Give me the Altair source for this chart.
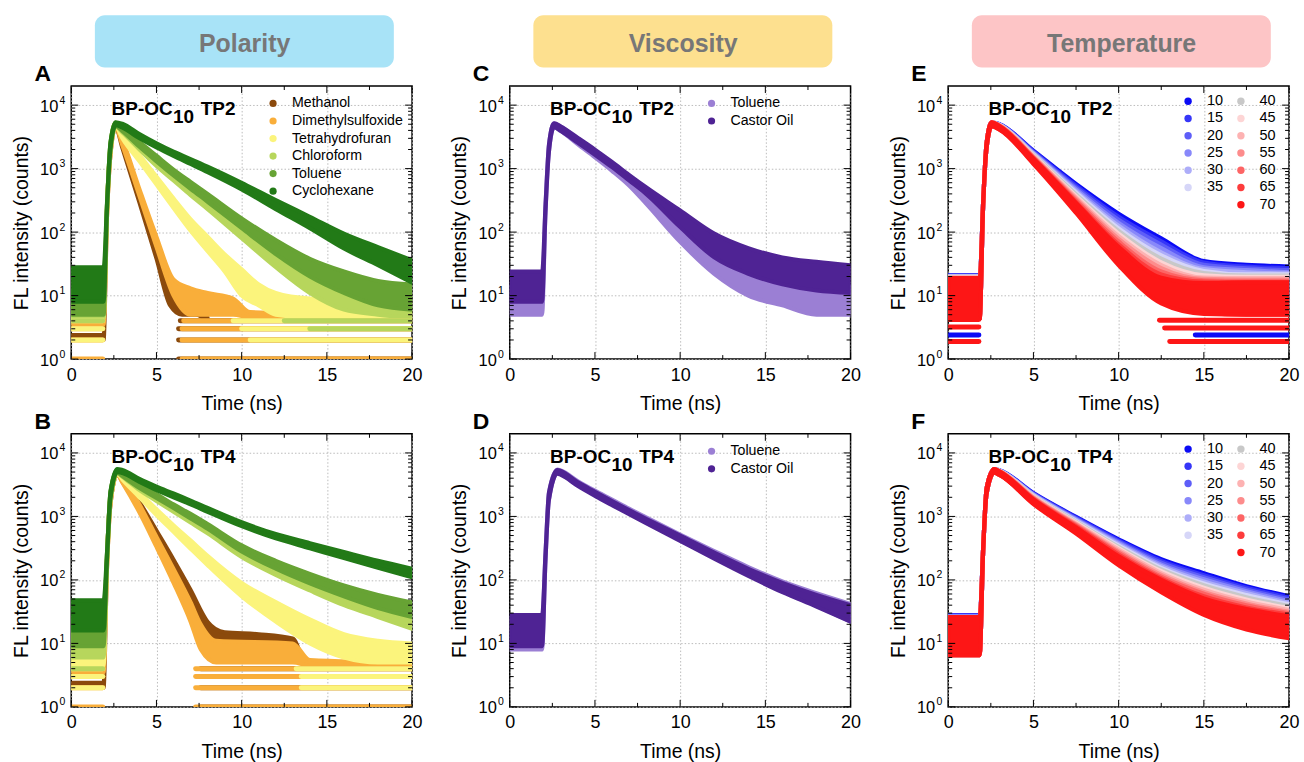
import altair as alt
import pandas as pd

FONT = "Liberation Sans"
W, H = 342, 274

# ---------------- axis ticks ----------------
X_MAJOR = [0, 5, 10, 15, 20]
X_MINOR = [2.5, 7.5, 12.5, 17.5]
Y_MAJOR = [1, 10, 100, 1000, 10000]
Y_EXP = ["0", "1", "2", "3", "4"]
Y_MINOR = [2, 3, 4, 5, 6, 7, 8, 9, 20, 30, 40, 50, 60, 70, 80, 90,
           200, 300, 400, 500, 600, 700, 800, 900,
           2000, 3000, 4000, 5000, 6000, 7000, 8000, 9000]

# ---------------- Panel A : polarity, TP2 ----------------
A_NAMES = ["Methanol", "Dimethylsulfoxide", "Tetrahydrofuran", "Chloroform", "Toluene", "Cyclohexane"]
A_COLORS = ["#8b4a0c", "#f9ae3a", "#fbf47c", "#b7d65c", "#67a334", "#227a17"]
GRID_A = [0, 1.9, 2.1, 2.3, 2.6, 3, 4, 5, 6, 7, 8, 10, 12, 14, 16, 18, 20]
A_T = {
    "Methanol": [0, 1.9, 2.1, 2.3, 2.6, 3, 4, 5, 5.8, 6.5, 7.3, 8],
    "Dimethylsulfoxide": [0, 1.9, 2.1, 2.3, 2.6, 3, 4, 5, 6, 7, 8, 9.5, 10.5, 20],
    "Tetrahydrofuran": [0, 1.9, 2.1, 2.3, 2.6, 3, 4, 5, 6, 7, 8, 9, 10, 11, 12, 14, 20],
    "Chloroform": GRID_A, "Toluene": GRID_A, "Cyclohexane": GRID_A,
}
A_LO = {
    "Methanol": [2, 2, 170, 1600, 4500, 2100, 290, 38, 7, 5, 5, 4],
    "Dimethylsulfoxide": [3.5, 3.5, 170, 1600, 4500, 2300, 370, 58, 10, 5, 5, 5, 4.5, 4.5],
    "Tetrahydrofuran": [4.5, 4.5, 200, 1800, 4600, 3000, 1300, 560, 240, 105, 50, 24, 10, 7, 5, 4.5, 4.5],
    "Chloroform": [4.5, 4.5, 210, 1900, 4600, 3700, 2000, 1100, 650, 380, 230, 80, 28, 11, 6, 5, 4.5],
    "Toluene": [5, 5, 220, 1950, 4700, 3900, 2200, 1300, 780, 480, 300, 115, 45, 20, 11, 7, 6],
    "Cyclohexane": [8, 8, 230, 2000, 4800, 4400, 3000, 2150, 1580, 1180, 880, 470, 230, 115, 55, 30, 16],
}
A_HI = {
    "Methanol": [2.4, 2.4, 250, 2200, 5200, 2600, 380, 55, 12, 11, 9, 4.5],
    "Dimethylsulfoxide": [4.5, 4.5, 250, 2200, 5200, 2900, 480, 85, 18, 13, 11, 9, 5.5, 5],
    "Tetrahydrofuran": [6, 6, 280, 2400, 5300, 3700, 1650, 750, 340, 160, 85, 45, 26, 15, 11, 9, 8],
    "Chloroform": [9, 9, 290, 2500, 5300, 4300, 2400, 1350, 820, 500, 310, 120, 50, 25, 14, 11, 10],
    "Toluene": [12, 12, 300, 2550, 5300, 4500, 2650, 1600, 970, 620, 400, 165, 75, 38, 24, 17, 15],
    "Cyclohexane": [28, 28, 310, 2600, 5400, 5100, 3500, 2500, 1850, 1420, 1080, 600, 320, 175, 95, 58, 36],
}
# quantised low-count rows: (series, level, from, to)
A_STRIPES = [
    ("Methanol", 1, 6.3, 20), ("Methanol", 2, 6.3, 20), ("Methanol", 3, 6.3, 20), ("Methanol", 4, 6.4, 20),
    ("Dimethylsulfoxide", 1, 6.5, 20), ("Dimethylsulfoxide", 2, 6.5, 20),
    ("Dimethylsulfoxide", 3, 6.5, 20), ("Dimethylsulfoxide", 4, 6.6, 20),
    ("Dimethylsulfoxide", 1, 0, 1.85), ("Dimethylsulfoxide", 2, 0, 1.85), ("Dimethylsulfoxide", 3, 0, 1.85),
    ("Tetrahydrofuran", 2, 10.5, 20), ("Tetrahydrofuran", 3, 10, 20), ("Tetrahydrofuran", 4, 9.5, 20),
    ("Tetrahydrofuran", 2, 0, 1.85), ("Tetrahydrofuran", 3, 0, 1.85), ("Tetrahydrofuran", 4, 0, 1.85),
    ("Chloroform", 3, 14, 20), ("Chloroform", 4, 12.5, 20), ("Chloroform", 4, 0, 1.85),
]

# ---------------- Panel B : polarity, TP4 ----------------
GRID_B = [0, 1.9, 2.1, 2.3, 2.7, 3, 4, 5, 6, 7, 8, 10, 12, 14, 16, 18, 20]
B_T = {
    "Methanol": [0, 1.9, 2.1, 2.3, 2.7, 3, 4, 5, 6, 7, 8, 9, 11, 13, 13.5],
    "Dimethylsulfoxide": [0, 1.9, 2.1, 2.3, 2.7, 3, 4, 5, 6, 7, 7.6, 8.5, 13, 14, 20],
    "Tetrahydrofuran": GRID_B, "Chloroform": GRID_B, "Toluene": GRID_B, "Cyclohexane": GRID_B,
}
B_LO = {
    "Methanol": [2, 2, 150, 1500, 4600, 3500, 1300, 430, 140, 40, 12, 7, 7, 6, 5],
    "Dimethylsulfoxide": [3.5, 3.5, 150, 1500, 4600, 3400, 1150, 330, 90, 22, 8, 5, 5, 4.5, 4.5],
    "Tetrahydrofuran": [4.5, 4.5, 170, 1700, 4700, 3800, 2000, 1050, 570, 310, 170, 55, 22, 10, 6, 5, 5],
    "Chloroform": [6, 6, 190, 1800, 4800, 4200, 2600, 1750, 1180, 800, 540, 230, 120, 68, 40, 26, 17],
    "Toluene": [9, 9, 200, 1850, 4900, 4300, 2800, 1950, 1350, 930, 640, 280, 150, 88, 55, 36, 26],
    "Cyclohexane": [16, 16, 210, 1900, 5000, 4800, 3500, 2600, 2000, 1550, 1180, 700, 450, 315, 220, 155, 110],
}
B_HI = {
    "Methanol": [2.4, 2.4, 230, 2100, 5300, 4300, 1700, 600, 210, 70, 22, 15, 14, 12, 6],
    "Dimethylsulfoxide": [4.5, 4.5, 230, 2100, 5300, 4200, 1550, 480, 150, 45, 20, 11, 10, 5.5, 5],
    "Tetrahydrofuran": [7, 7, 250, 2300, 5400, 4400, 2400, 1300, 730, 420, 240, 90, 45, 24, 14, 11, 10],
    "Chloroform": [15, 15, 270, 2400, 5400, 4800, 3000, 2050, 1400, 960, 660, 300, 165, 100, 62, 42, 30],
    "Toluene": [24, 24, 280, 2450, 5400, 4900, 3200, 2250, 1550, 1100, 760, 350, 200, 125, 82, 58, 44],
    "Cyclohexane": [48, 48, 290, 2500, 5600, 5400, 3900, 2950, 2300, 1780, 1360, 810, 530, 380, 275, 200, 150],
}
B_STRIPES = [
    ("Methanol", 1, 7.6, 20), ("Methanol", 2, 7.6, 20), ("Methanol", 3, 7.6, 20), ("Methanol", 4, 7.6, 20),
    ("Dimethylsulfoxide", 1, 7.3, 20), ("Dimethylsulfoxide", 2, 7.3, 20),
    ("Dimethylsulfoxide", 3, 7.3, 20), ("Dimethylsulfoxide", 4, 7.3, 20),
    ("Dimethylsulfoxide", 1, 0, 1.85), ("Dimethylsulfoxide", 2, 0, 1.85), ("Dimethylsulfoxide", 3, 0, 1.85),
    ("Tetrahydrofuran", 2, 13.5, 20), ("Tetrahydrofuran", 3, 13.5, 20), ("Tetrahydrofuran", 4, 13.2, 20),
    ("Tetrahydrofuran", 2, 0, 1.85), ("Tetrahydrofuran", 3, 0, 1.85), ("Tetrahydrofuran", 4, 0, 1.85),
    ("Chloroform", 4, 0, 1.85),
]

# ---------------- Panels C, D : viscosity ----------------
V_NAMES = ["Toluene", "Castor Oil"]
V_COLORS = ["#9b7fd4", "#4f2394"]
GRID_C = [0, 1.9, 2.1, 2.3, 2.6, 3, 4, 5, 6, 7, 8, 10, 12, 14, 16, 18, 20]
C_LO = {
    "Toluene": [5, 5, 200, 1800, 4500, 3900, 2400, 1500, 920, 540, 280, 70, 22, 10, 7, 5, 5],
    "Castor Oil": [8, 8, 200, 1800, 4500, 3900, 2550, 1650, 1050, 650, 400, 120, 40, 22, 15, 12, 11],
}
C_HI = {
    "Toluene": [14, 14, 280, 2400, 5200, 4600, 2900, 1850, 1150, 700, 400, 130, 55, 27, 21, 16, 14],
    "Castor Oil": [24, 24, 280, 2400, 5200, 4600, 3050, 2000, 1280, 800, 510, 220, 95, 56, 40, 34, 30],
}
GRID_D = [0, 1.9, 2.1, 2.3, 2.8, 3, 4, 5, 6, 7, 8, 10, 12, 14, 16, 18, 20]
D_LO = {
    "Toluene": [8, 8, 200, 1800, 4800, 4600, 3100, 2200, 1580, 1130, 820, 430, 225, 120, 66, 39, 22],
    "Castor Oil": [9, 9, 200, 1800, 4700, 4500, 3000, 2100, 1500, 1080, 780, 410, 215, 115, 64, 38, 22],
}
D_HI = {
    "Toluene": [25, 25, 280, 2400, 5500, 5300, 3600, 2550, 1850, 1330, 970, 520, 285, 160, 95, 62, 42],
    "Castor Oil": [28, 28, 280, 2400, 5400, 5200, 3450, 2450, 1750, 1260, 920, 500, 270, 150, 90, 58, 40],
}

# ---------------- Panels E, F : temperature ----------------
T_NAMES = ["10", "15", "20", "25", "30", "35", "40", "45", "50", "55", "60", "65", "70"]
T_COLORS = ["#0b0bf5", "#3636f8", "#5e5ef8", "#8888fa", "#adadf9", "#d6d6f8", "#c8c8c8",
            "#fdd5d5", "#fdb2b2", "#fd8c8c", "#fd6565", "#fd3c3c", "#fd1616"]
E_T = [0, 1.85, 2.05, 2.25, 2.55, 3, 5, 7.5, 10, 12.5, 15, 17.5, 20]
E_SPREAD = [2.1, 2.1, 1.15, 1.12, 1.08, 1.07, 1.1, 1.2, 1.4, 1.6, 1.75, 1.8, 1.8]
E_MID = {
    "10": [10, 10, 280, 2300, 5000, 4700, 1750, 480, 140, 50, 20, 17, 16],
    "15": [10, 10, 280, 2300, 5000, 4680, 1700, 450, 125, 45, 19, 16, 15],
    "20": [9.8, 9.8, 280, 2300, 5000, 4650, 1650, 420, 112, 40, 17.5, 15, 14],
    "25": [9.7, 9.7, 280, 2300, 5000, 4620, 1610, 395, 100, 35, 16, 14, 13],
    "30": [9.6, 9.6, 280, 2300, 5000, 4600, 1570, 370, 90, 30, 15, 13, 12.5],
    "35": [9.5, 9.5, 280, 2300, 5000, 4580, 1530, 350, 82, 27, 14, 12, 12],
    "40": [9.4, 9.4, 280, 2300, 5000, 4560, 1500, 330, 75, 24, 13, 11.5, 11.5],
    "45": [9.3, 9.3, 280, 2300, 5000, 4540, 1470, 310, 68, 21, 12, 11, 11],
    "50": [9.2, 9.2, 280, 2300, 5000, 4510, 1430, 295, 62, 19, 11, 10.5, 10.5],
    "55": [9.1, 9.1, 280, 2300, 5000, 4490, 1400, 280, 56, 17, 10.5, 10, 10],
    "60": [9, 9, 280, 2300, 5000, 4460, 1370, 265, 51, 15, 10, 9.5, 9.5],
    "65": [9, 9, 280, 2300, 5000, 4430, 1340, 250, 46, 13.5, 9.5, 9, 9],
    "70": [9, 9, 280, 2300, 5000, 4400, 1300, 240, 42, 12, 9, 9, 9],
}
E_STRIPES = [
    ("10", 2.4, 14.5, 20), ("10", 2.4, 0, 1.8),
    ("70", 1.9, 13, 20), ("70", 3.1, 12.7, 20), ("70", 4.1, 12.4, 20),
    ("70", 1.9, 0, 1.8), ("70", 3.2, 0, 1.8), ("70", 4.2, 0, 1.8),
]
F_T = [0, 1.85, 2.05, 2.25, 2.7, 3, 5, 7.5, 10, 12.5, 15, 17.5, 20]
F_SPREAD = [2.0, 2.0, 1.15, 1.12, 1.07, 1.07, 1.09, 1.12, 1.18, 1.25, 1.35, 1.45, 1.5]
F_MID = {
    "10": [14, 14, 300, 2500, 5200, 5000, 2150, 880, 370, 170, 95, 55, 37],
    "15": [14, 14, 300, 2500, 5200, 4980, 2110, 855, 355, 160, 88, 52, 35],
    "20": [13.5, 13.5, 300, 2500, 5200, 4960, 2070, 830, 340, 150, 82, 49, 33],
    "25": [13.5, 13.5, 300, 2500, 5200, 4950, 2030, 805, 325, 140, 76, 46, 31],
    "30": [13, 13, 300, 2500, 5200, 4930, 2000, 785, 310, 132, 70, 43, 29],
    "35": [13, 13, 300, 2500, 5200, 4910, 1960, 760, 295, 124, 65, 40, 27.5],
    "40": [13, 13, 300, 2500, 5200, 4900, 1930, 740, 282, 117, 61, 37, 26],
    "45": [13, 13, 300, 2500, 5200, 4880, 1890, 715, 268, 110, 56, 34, 24],
    "50": [13, 13, 300, 2500, 5200, 4870, 1860, 695, 255, 103, 52, 31.5, 22.5],
    "55": [13, 13, 300, 2500, 5200, 4850, 1820, 672, 240, 96, 48, 29.5, 21],
    "60": [13, 13, 300, 2500, 5200, 4830, 1780, 650, 228, 90, 45, 27.5, 20],
    "65": [13, 13, 300, 2500, 5200, 4815, 1740, 625, 214, 85, 41, 25.5, 19],
    "70": [13, 13, 300, 2500, 5200, 4800, 1700, 600, 200, 80, 38, 24, 18],
}

# ---------------- scales / axes ----------------
XS = alt.Scale(domain=[0, 20], nice=False, zero=False)
YS = alt.Scale(type="log", domain=[1, 20000], nice=False)
GRID_STYLE = dict(grid=True, gridDash=[1.5, 2], gridColor="#b4b4b4", gridWidth=0.9)
XAX = alt.Axis(values=X_MAJOR, format="d", title="Time (ns)", ticks=False, domain=False,
               labelFontSize=18, labelPadding=7, labelFlush=False, labelColor="black",
               labelFont=FONT, titleFont=FONT, titleFontSize=19.5, titleFontWeight="normal",
               titleColor="black", titlePadding=11, **GRID_STYLE)
YAX = alt.Axis(values=Y_MAJOR, labels=False, ticks=False, domain=False,
               title="FL intensity (counts)", titleFont=FONT, titleFontSize=19.5,
               titleFontWeight="normal", titleColor="black", titlePadding=40, **GRID_STYLE)


def xenc(f):
    return alt.X(f"{f}:Q", scale=XS, axis=XAX)


def yenc(f):
    return alt.Y(f"{f}:Q", scale=YS, axis=YAX)


ONE = pd.DataFrame({"k": [0]})


def txt(text, x, y, size, weight="normal", color="black", align="left", baseline="alphabetic"):
    return alt.Chart(ONE).mark_text(text=text, fontSize=size, fontWeight=weight, color=color,
                                    align=align, baseline=baseline, font=FONT).encode(
        x=alt.value(x), y=alt.value(y))


def curve(df, color):
    return alt.Chart(df).mark_area(fill=color, stroke=color, strokeWidth=4, strokeJoin="round",
                                   interpolate="monotone", opacity=1, clip=True).encode(
        x=xenc("t"), y=yenc("hi"), y2=alt.Y2("lo"))


def stripes(rows, cmap):
    d = pd.DataFrame(rows, columns=["name", "level", "t0", "t1"])
    d["color"] = [cmap[n] for n in d["name"]]
    return alt.Chart(d).mark_rule(strokeWidth=5, strokeCap="round", clip=True).encode(
        x=xenc("t0"), x2=alt.X2("t1"), y=yenc("level"), color=alt.Color("color:N", scale=None))


def frame_layers():
    out = []
    for vals, ln in [(X_MAJOR, 7), (X_MINOR, 4)]:
        d = pd.DataFrame({"v": vals})
        out.append(alt.Chart(d).mark_rule(color="black", strokeWidth=1).encode(
            x=xenc("v"), y=alt.value(H), y2=alt.value(H - ln)))
        out.append(alt.Chart(d).mark_rule(color="black", strokeWidth=1).encode(
            x=xenc("v"), y=alt.value(0), y2=alt.value(ln)))
    for vals, ln in [(Y_MAJOR, 7), (Y_MINOR, 4)]:
        d = pd.DataFrame({"v": vals})
        out.append(alt.Chart(d).mark_rule(color="black", strokeWidth=1).encode(
            y=yenc("v"), x=alt.value(0), x2=alt.value(ln)))
        out.append(alt.Chart(d).mark_rule(color="black", strokeWidth=1).encode(
            y=yenc("v"), x=alt.value(W), x2=alt.value(W - ln)))
    d = pd.DataFrame({"v": Y_MAJOR, "e": Y_EXP})
    out.append(alt.Chart(d).mark_text(text="10", align="right", baseline="middle", fontSize=16.5,
                                      font=FONT, dy=1.5).encode(x=alt.value(-13), y=yenc("v")))
    out.append(alt.Chart(d).mark_text(align="right", baseline="middle", fontSize=10.5,
                                      font=FONT, dy=-4.5).encode(x=alt.value(-6), y=yenc("v"),
                                                                 text="e:N"))
    return out


def title_layers(tp):
    return [txt("BP-OC", 40.5, 29, 19, "bold"), txt("10", 102, 37, 19, "bold"),
            txt(tp, 130, 29, 19, "bold")]


def legend1(names, colors):
    out = []
    for i, (n, c) in enumerate(zip(names, colors)):
        y = 17.5 + 17.6 * i
        out.append(alt.Chart(ONE).mark_circle(size=52, color=c, opacity=1).encode(
            x=alt.value(202.5), y=alt.value(y)))
        out.append(txt(n, 221.5, y, 14.2, baseline="middle"))
    return out


def legend2(names, colors):
    out = []
    for i, (n, c) in enumerate(zip(names, colors)):
        col, row = (0, i) if i < 6 else (1, i - 6)
        y = 15.3 + 17.3 * row
        cx = 240.7 if col == 0 else 293.7
        tx = 259.7 if col == 0 else 312.3
        out.append(alt.Chart(ONE).mark_circle(size=55, color=c, opacity=1).encode(
            x=alt.value(cx), y=alt.value(y)))
        out.append(txt(n, tx, y, 14.5, baseline="middle"))
    return out


def header(label, color):
    return [alt.Chart(ONE).mark_rect(color=color, cornerRadius=10).encode(
        x=alt.value(23.7), x2=alt.value(323.7), y=alt.value(-71), y2=alt.value(-18.7)),
        txt(label, 174, -34.3, 25, "bold", color="#777777", align="center")]


def panel(curve_layers, extra, letter, tp, legend, head=None):
    layers = list(curve_layers) + list(extra) + frame_layers() + title_layers(tp) + legend
    layers.append(txt(letter, -37, -5, 23, "bold"))
    if head is not None:
        layers += head
    return alt.layer(*layers).properties(width=W, height=H)


# ---- build panels ----
A_CMAP = dict(zip(A_NAMES, A_COLORS))
T_CMAP = dict(zip(T_NAMES, T_COLORS))

pA = panel([curve(pd.DataFrame({"t": A_T[n], "lo": A_LO[n], "hi": A_HI[n]}), A_CMAP[n]) for n in A_NAMES],
           [stripes(A_STRIPES, A_CMAP)], "A", "TP2", legend1(A_NAMES, A_COLORS),
           header("Polarity", "#a8e3f7"))
pB = panel([curve(pd.DataFrame({"t": B_T[n], "lo": B_LO[n], "hi": B_HI[n]}), A_CMAP[n]) for n in A_NAMES],
           [stripes(B_STRIPES, A_CMAP)], "B", "TP4", [])
pC = panel([curve(pd.DataFrame({"t": GRID_C, "lo": C_LO[n], "hi": C_HI[n]}), c)
            for n, c in zip(V_NAMES, V_COLORS)], [], "C", "TP2", legend1(V_NAMES, V_COLORS),
           header("Viscosity", "#fde08f"))
pD = panel([curve(pd.DataFrame({"t": GRID_D, "lo": D_LO[n], "hi": D_HI[n]}), c)
            for n, c in zip(V_NAMES, V_COLORS)], [], "D", "TP4", legend1(V_NAMES, V_COLORS))


def temp_curves(tgrid, mids, spread):
    out = []
    for n in T_NAMES:
        m = mids[n]
        d = pd.DataFrame({"t": tgrid, "lo": [a / s for a, s in zip(m, spread)],
                          "hi": [a * s for a, s in zip(m, spread)]})
        out.append(curve(d, T_CMAP[n]))
    return out


pE = panel(temp_curves(E_T, E_MID, E_SPREAD), [stripes(E_STRIPES, T_CMAP)], "E", "TP2",
           legend2(T_NAMES, T_COLORS), header("Temperature", "#fdc5c6"))
pF = panel(temp_curves(F_T, F_MID, F_SPREAD), [], "F", "TP4", legend2(T_NAMES, T_COLORS))

chart = alt.concat(pA, pC, pE, pB, pD, pF, columns=3, spacing={"row": 75, "column": 98},
                   bounds="flush")
chart = chart.properties(padding={"left": 10.5, "top": 13, "right": 4, "bottom": 2}).configure(
    font=FONT).configure_view(stroke="black", strokeWidth=1.5)

chart.save("out.html", embed_options={"renderer": "svg", "actions": False})
